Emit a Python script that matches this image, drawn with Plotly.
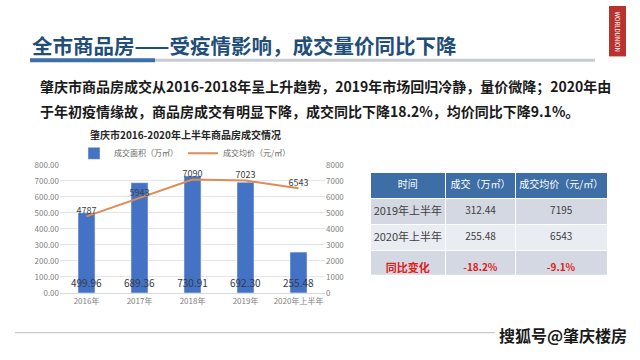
import plotly.graph_objects as go

years = ["2016年", "2017年", "2018年", "2019年", "2020年上半年"]
area = [499.96, 689.36, 730.91, 692.30, 255.48]
price = [4787, 5943, 7090, 7023, 6543]
bar_name = "成交面积（万㎡）"
line_name = "成交均价（元/㎡）"

tbl_header = ["时间", "成交（万㎡）", "成交均价（元/㎡）"]
tbl_col1 = ["2019年上半年", "2020年上半年", "同比变化"]
tbl_col2 = ["312.44", "255.48", "-18.2%"]
tbl_col3 = ["7195", "6543", "-9.1%"]

FONT = "Noto Sans CJK SC"
W, H = 640, 360

def px(x):
    return x / W

def py(y):
    return 1 - y / H

fig = go.Figure()
fig.add_trace(go.Bar(
    x=years, y=area, name=bar_name, marker_color="#4472c4", width=0.32,
    text=[f"{v:.2f}" for v in area], textposition="inside", insidetextanchor="start",
    textangle=0, constraintext="none",
    textfont=dict(size=10, color="#353a48", family=FONT), cliponaxis=False,
))
fig.add_trace(go.Scatter(
    x=years, y=price, name=line_name, mode="lines+text", yaxis="y2",
    line=dict(color="#dc8d55", width=2),
    text=[str(v) for v in price], textposition="top center",
    textfont=dict(size=9, color="#404040", family=FONT), cliponaxis=False,
))

tick_font = dict(size=8, color="#7f7f7f", family=FONT)
fig.update_layout(
    width=W, height=H, margin=dict(l=0, r=0, t=0, b=0),
    paper_bgcolor="white", plot_bgcolor="white",
    font=dict(family=FONT),
    showlegend=True,
    legend=dict(orientation="h", x=px(185), xanchor="center", y=py(152), yanchor="middle",
                font=dict(size=8, color="#666666", family=FONT), itemwidth=30),
    xaxis=dict(domain=[px(60), px(325)], anchor="y", tickfont=tick_font, showline=True,
               linecolor="#d9d9d9", ticks=""),
    yaxis=dict(domain=[py(296), py(164)], range=[0, 800], dtick=100, tickformat=".2f",
               tickfont=tick_font, gridcolor="#e6e6e6", zeroline=False),
    yaxis2=dict(overlaying="y", side="right", anchor="x", range=[0, 8000], dtick=1000,
                tickfont=tick_font, showgrid=False, zeroline=False),
    bargap=0.6,
)

# Table
cell_fill = ["#d3d8e2", "#e9ecf2", "#d3d8e2"]
red_row = lambda col: [v if i < 2 else f"<b>{v}</b>" for i, v in enumerate(col)]
fig.add_trace(go.Table(
    domain=dict(x=[px(370), px(608)], y=[py(278), py(172)]),
    columnwidth=[76, 70, 92],
    header=dict(values=tbl_header, fill_color="#3d6ea6", line_color="white",
                font=dict(color="white", size=10, family=FONT), height=26, align="center"),
    cells=dict(values=[red_row(tbl_col1), red_row(tbl_col2), red_row(tbl_col3)],
               fill_color=[cell_fill] * 3, line_color="white", height=26, align="center",
               font=dict(size=[11, 10, 10],
                         color=[["#404040", "#404040", "#e0201b"]] * 3,
                         family=FONT)),
))

shapes = [
    dict(type="line", xref="paper", yref="paper", x0=px(30), x1=px(595), y0=py(56), y1=py(56),
         line=dict(color="#c8ccd2", width=3)),
    dict(type="line", xref="paper", yref="paper", x0=px(30), x1=px(155), y0=py(56), y1=py(56),
         line=dict(color="#3d6fa8", width=4)),
    dict(type="line", xref="paper", yref="paper", x0=px(15), x1=px(495), y0=py(337), y1=py(337),
         line=dict(color="#bfbfbf", width=1)),
    dict(type="rect", xref="paper", yref="paper", x0=px(609), x1=px(626), y0=py(52), y1=py(0),
         fillcolor="#b8322e", line=dict(width=0)),
]
fig.update_layout(shapes=shapes)

ann = [
    dict(text="<b>全市商品房——受疫情影响，成交量价同比下降</b>", x=px(30), y=py(40),
         xanchor="left", yanchor="middle", font=dict(size=20.5, color="#1f4e79", family=FONT)),
    dict(text="<b>肇庆市商品房成交从2016-2018年呈上升趋势，2019年市场回归冷静，量价微降；2020年由</b>",
         x=px(38), y=py(83), xanchor="left", yanchor="middle",
         font=dict(size=14, color="#1a1a1a", family=FONT)),
    dict(text="<b>于年初疫情缘故，商品房成交有明显下降，成交同比下降18.2%，均价同比下降9.1%。</b>",
         x=px(38), y=py(108), xanchor="left", yanchor="middle",
         font=dict(size=14, color="#1a1a1a", family=FONT)),
    dict(text="<b>肇庆市2016-2020年上半年商品房成交情况</b>", x=px(185), y=py(133),
         xanchor="center", yanchor="middle", font=dict(size=10, color="#262626", family=FONT)),
    dict(text="<b>搜狐号@肇庆楼房</b>", x=px(563), y=py(339), xanchor="center", yanchor="middle",
         font=dict(size=16, color="#1a1a1a", family=FONT)),
    dict(text="WORLDUNION", x=px(617.5), y=py(26), xanchor="center", yanchor="middle",
         textangle=90, font=dict(size=6, color="white", family=FONT)),
]
for a in ann:
    a.update(xref="paper", yref="paper", showarrow=False)
fig.update_layout(annotations=ann)

fig.write_html("out.html", config={"displayModeBar": False},
               post_script="document.body.style.margin='0';")
